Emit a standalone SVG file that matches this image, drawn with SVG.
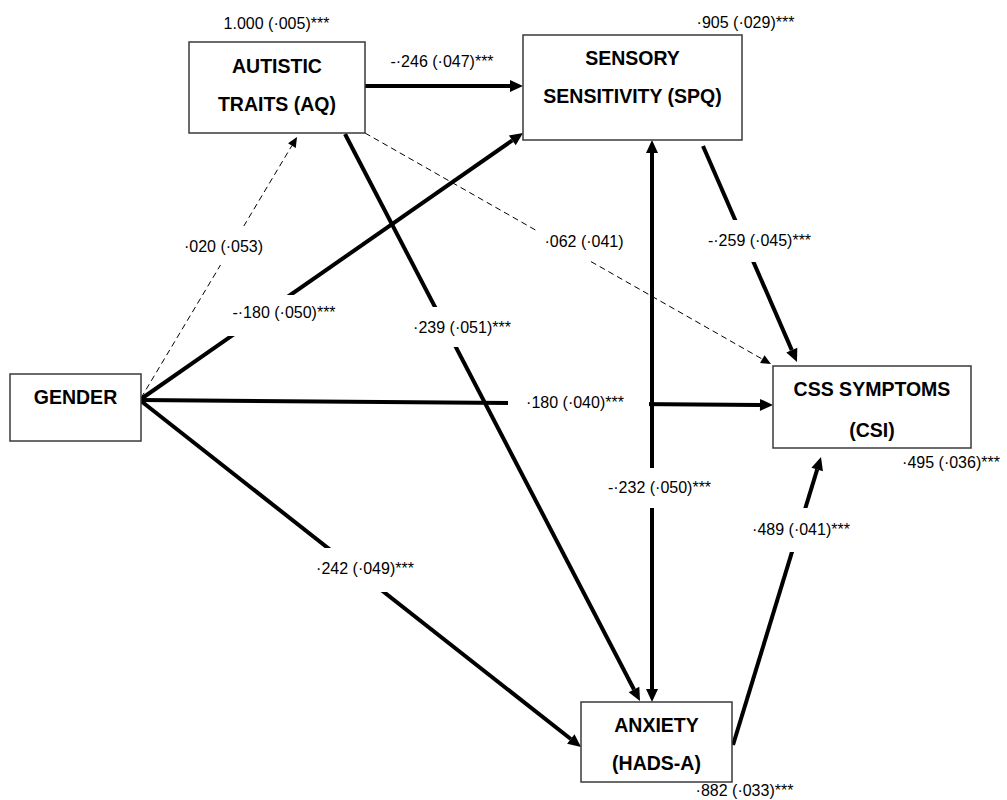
<svg xmlns="http://www.w3.org/2000/svg" width="1007" height="800" viewBox="0 0 1007 800">
<style>
.box{fill:#fff;stroke:#3a3a3a;stroke-width:1.5}
.nt{font-family:"Liberation Sans",Arial,sans-serif;font-weight:bold;font-size:19.5px;fill:#000;text-anchor:middle}
.lt{font-family:"Liberation Sans",Arial,sans-serif;font-size:16px;fill:#000;text-anchor:middle}
.thick{stroke:#000;stroke-width:4;fill:none;marker-end:url(#ah)}
.thin{stroke:#000;stroke-width:1;stroke-dasharray:6 4;fill:none;marker-end:url(#ahs)}
.bg{fill:#fff;stroke:none}
</style>
<defs>
<marker id="ah" markerUnits="userSpaceOnUse" markerWidth="14" markerHeight="12" refX="0" refY="6" orient="auto-start-reverse" overflow="visible"><path d="M0,0 L13,6 L0,12 Z" fill="#000"/></marker>
<marker id="ahs" markerUnits="userSpaceOnUse" markerWidth="11" markerHeight="9" refX="0" refY="4.5" orient="auto" overflow="visible"><path d="M0,0 L10,4.5 L0,9 Z" fill="#000"/></marker>
</defs>
<rect width="1007" height="800" fill="#fff"/>
<g id="connectors">
<path class="thick" d="M365,86 L510,86"/>
<path class="thin" d="M141,398 L291.9,145.6"/>
<path class="thick" d="M141,399 L512.3,140.4"/>
<path class="thick" d="M345,134 L634,689.5"/>
<path class="thin" d="M365,133 L762.3,359.1"/>
<path class="thick" d="M703,146 L791.8,350.1"/>
<path class="thick" d="M141,400 L760,404.9"/>
<path class="thick" d="M141,401 L570.8,739"/>
<path class="thick" d="M652,153 L652,689" marker-start="url(#ah)"/>
<path class="thick" d="M733,745 L817.2,469.4"/>
</g>
<g id="edge-labels">
<rect class="bg" x="508" y="388" width="141" height="32"/>
<text class="lt" x="442" y="67">-·246 (·047)***</text>
<rect class="bg" x="178" y="226" width="92" height="39"/>
<text class="lt" x="223.5" y="252">·020 (·053)</text>
<rect class="bg" x="222" y="295" width="124" height="41"/>
<text class="lt" x="284" y="318">-·180 (·050)***</text>
<rect class="bg" x="404" y="307" width="116" height="40"/>
<text class="lt" x="462" y="333">·239 (·051)***</text>
<rect class="bg" x="538" y="228" width="92" height="33"/>
<text class="lt" x="584" y="247">·062 (·041)</text>
<rect class="bg" x="698" y="220" width="124" height="42"/>
<text class="lt" x="759.5" y="246">-·259 (·045)***</text>
<text class="lt" x="575" y="408">·180 (·040)***</text>
<rect class="bg" x="598" y="468" width="122" height="40"/>
<text class="lt" x="659.5" y="493">-·232 (·050)***</text>
<rect class="bg" x="300" y="548" width="130" height="44"/>
<text class="lt" x="365" y="574">·242 (·049)***</text>
<rect class="bg" x="745" y="508" width="113" height="44"/>
<text class="lt" x="801" y="535">·489 (·041)***</text>
<text class="lt" x="276.5" y="29">1.000 (·005)***</text>
<text class="lt" x="745.5" y="28">·905 (·029)***</text>
<text class="lt" x="951" y="468">·495 (·036)***</text>
<text class="lt" x="744.5" y="796">·882 (·033)***</text>
</g>
<g id="node-aq">
<rect class="box" x="189" y="42" width="176" height="91"/>
<text class="nt" x="277" y="73">AUTISTIC</text>
<text class="nt" x="277" y="111">TRAITS (AQ)</text>
</g>
<g id="node-spq">
<rect class="box" x="523" y="35" width="219" height="105"/>
<text class="nt" x="632.5" y="65">SENSORY</text>
<text class="nt" x="632.5" y="103">SENSITIVITY (SPQ)</text>
</g>
<g id="node-gender">
<rect class="box" x="10" y="374" width="131" height="67"/>
<text class="nt" x="75.5" y="404">GENDER</text>
</g>
<g id="node-csi">
<rect class="box" x="773" y="366" width="198" height="82"/>
<text class="nt" x="872" y="396">CSS SYMPTOMS</text>
<text class="nt" x="872" y="437">(CSI)</text>
</g>
<g id="node-hads">
<rect class="box" x="581" y="702" width="151" height="80"/>
<text class="nt" x="656.5" y="732">ANXIETY</text>
<text class="nt" x="656.5" y="770">(HADS-A)</text>
</g>
</svg>
